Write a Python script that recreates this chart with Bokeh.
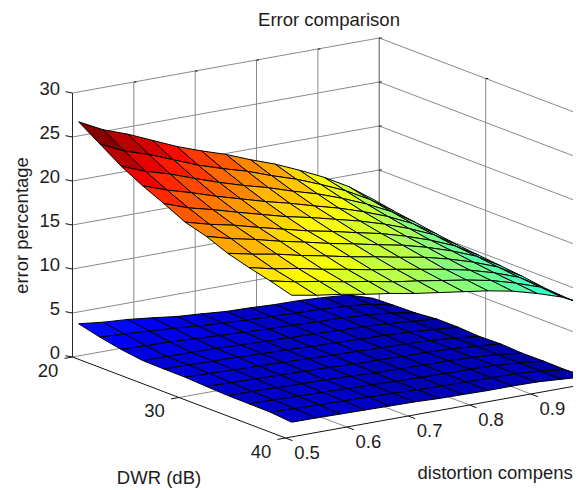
from bokeh.plotting import figure
from bokeh.embed import file_html
from bokeh.resources import INLINE
from bokeh.models import ColumnDataSource, LinearColorMapper, Range1d
from bokeh.core.properties import value
import math

TITLE = "Error comparison"
XLABEL = "distortion compens"
YLABEL = "DWR (dB)"
ZLABEL = "error percentage"

COMP_TICKS = [0.5, 0.6, 0.7, 0.8, 0.9]
COMP_TICK_LABELS = ["0.5", "0.6", "0.7", "0.8", "0.9"]
DWR_TICKS = [20, 30, 40]
DWR_TICK_LABELS = ["20", "30", "40"]
Z_TICKS = [0, 5, 10, 15, 20, 25, 30]
Z_TICK_LABELS = ["0", "5", "10", "15", "20", "25", "30"]

COMP = [0.51, 0.55, 0.59, 0.63, 0.67, 0.71, 0.75, 0.79, 0.83, 0.87, 0.91, 0.95, 0.99]
DWR = [20, 22, 24, 26, 28, 30, 32, 34, 36, 38, 40]

UPPER_Z = [
    [26.6, 25.2, 24.2, 23.0, 21.8, 20.8, 19.9, 18.8, 17.8, 16.6, 15.3, 13.75, 11.8],
    [25.0, 23.7, 22.8, 21.7, 20.6, 19.7, 18.9, 17.9, 17.0, 15.9, 14.7, 13.2, 11.35],
    [23.4, 22.3, 21.5, 20.5, 19.55, 18.7, 17.95, 17.05, 16.25, 15.25, 14.1, 12.75, 11.0],
    [22.1, 21.1, 20.3, 19.4, 18.6, 17.8, 17.1, 16.3, 15.55, 14.65, 13.6, 12.3, 10.6],
    [21.0, 20.0, 19.3, 18.5, 17.75, 17.0, 16.4, 15.7, 15.0, 14.15, 13.15, 11.95, 10.25],
    [19.8, 19.05, 18.45, 17.7, 17.0, 16.3, 15.75, 15.1, 14.5, 13.7, 12.75, 11.6, 10.0],
    [19.1, 18.35, 17.75, 17.05, 16.45, 15.8, 15.25, 14.65, 14.1, 13.35, 12.45, 11.35, 9.75],
    [18.1, 17.5, 17.0, 16.35, 15.8, 15.2, 14.7, 14.15, 13.65, 12.95, 12.1, 11.05, 9.5],
    [17.4, 16.75, 16.3, 15.7, 15.2, 14.65, 14.2, 13.7, 13.2, 12.6, 11.8, 10.8, 9.15],
    [16.8, 16.2, 15.75, 15.2, 14.75, 14.2, 13.8, 13.35, 12.9, 12.35, 11.55, 10.6, 8.95],
    [16.1, 15.6, 15.2, 14.7, 14.3, 13.8, 13.4, 13.0, 12.6, 12.06, 11.3, 10.4, 9.0],
]

LOWER_Z = [
    [3.65, 3.33, 3.14, 2.83, 2.48, 2.28, 2.05, 1.97, 1.84, 1.80, 1.64, 1.42, 0.55],
    [3.05, 2.90, 2.75, 2.55, 2.30, 2.15, 1.98, 1.90, 1.78, 1.72, 1.55, 1.30, 0.65],
    [2.57, 2.50, 2.42, 2.30, 2.15, 2.03, 1.90, 1.82, 1.72, 1.65, 1.48, 1.22, 0.72],
    [2.24, 2.20, 2.15, 2.10, 2.00, 1.92, 1.82, 1.75, 1.65, 1.58, 1.42, 1.20, 0.95],
    [2.20, 2.15, 2.08, 2.02, 1.93, 1.85, 1.75, 1.68, 1.58, 1.52, 1.38, 1.18, 0.94],
    [2.18, 2.10, 2.02, 1.95, 1.87, 1.78, 1.68, 1.62, 1.52, 1.47, 1.34, 1.12, 0.81],
    [2.05, 1.98, 1.92, 1.85, 1.78, 1.70, 1.60, 1.54, 1.46, 1.42, 1.32, 1.12, 0.88],
    [1.94, 1.90, 1.84, 1.78, 1.71, 1.64, 1.52, 1.48, 1.40, 1.37, 1.28, 1.08, 0.75],
    [1.92, 1.85, 1.78, 1.72, 1.65, 1.58, 1.47, 1.42, 1.36, 1.34, 1.27, 1.07, 0.78],
    [1.89, 1.80, 1.73, 1.67, 1.60, 1.54, 1.42, 1.37, 1.31, 1.31, 1.25, 1.06, 0.74],
    [1.67, 1.65, 1.60, 1.56, 1.51, 1.47, 1.36, 1.32, 1.27, 1.28, 1.24, 1.05, 0.85],
]

# Orthographic projection of (DWR, compensation, error) to picture pixels
def PX(d, c):
    return 72 + (d - 20) / 20 * 213 + (c - 0.5) / 0.5 * 306.7

def PY(d, c, z):
    return 356.5 + (d - 20) / 20 * 81 - (c - 0.5) / 0.5 * 55 - z * 8.8

# MATLAB "jet" colormap, 64 levels
def jet_level(t):
    r = min(max(min(4 * t - 1.5, -4 * t + 4.5), 0), 1)
    g = min(max(min(4 * t - 0.5, -4 * t + 3.5), 0), 1)
    b = min(max(min(4 * t + 0.5, -4 * t + 2.5), 0), 1)
    return "#%02x%02x%02x" % (round(r * 255), round(g * 255), round(b * 255))

JET = [jet_level((k + 0.5) / 64) for k in range(64)]
mapper = LinearColorMapper(palette=JET, low=0.0, high=26.6)

p = figure(width=573, height=490, x_range=Range1d(0, 573), y_range=Range1d(490, 0),
           output_backend="svg", toolbar_location=None, min_border=0)
p.axis.visible = False
p.grid.visible = False
p.outline_line_color = None
p.background_fill_color = "white"
p.border_fill_color = "white"

C0, C1 = 0.5, 1.0
D0, D1 = 20, 40
Z0, Z1 = 0, 30

# grid on the two walls and the floor
gx, gy = [], []
for z in Z_TICKS:
    gx.append([PX(D0, C0), PX(D0, C1), PX(D1, C1)])
    gy.append([PY(D0, C0, z), PY(D0, C1, z), PY(D1, C1, z)])
for c in COMP_TICKS[1:]:
    gx.append([PX(D1, c), PX(D0, c), PX(D0, c)])
    gy.append([PY(D1, c, Z0), PY(D0, c, Z0), PY(D0, c, Z1)])
gx.append([PX(30, C0), PX(30, C1), PX(30, C1)])
gy.append([PY(30, C0, Z0), PY(30, C1, Z0), PY(30, C1, Z1)])
p.multi_line(gx, gy, line_color="#8a8a8a", line_width=1)

# back corner
p.line([PX(D0, C1)] * 2, [PY(D0, C1, Z0), PY(D0, C1, Z1)], line_color="#555555", line_width=1)

# axes
p.line([PX(D0, C0)] * 2, [PY(D0, C0, Z0), PY(D0, C0, Z1)], line_color="#262626", line_width=1)
p.line([PX(D0, C0), PX(D1, C0), PX(D1, C1)],
       [PY(D0, C0, Z0), PY(D1, C0, Z0), PY(D1, C1, Z0)], line_color="#111111", line_width=1)

# ticks
tx, ty = [], []
for z in Z_TICKS:
    tx.append([PX(D0, C0), PX(D0, C0) - 7])
    ty.append([PY(D0, C0, z), PY(D0, C0, z) - 1.3])
    tx.append([PX(D0, C1), PX(D0, C1) + 2.5])
    ty.append([PY(D0, C1, z), PY(D0, C1, z)])
for d in DWR_TICKS:
    tx.append([PX(d, C0), PX(d, C0) - 8])
    ty.append([PY(d, C0, Z0), PY(d, C0, Z0) + 1.4])
for c in COMP_TICKS:
    tx.append([PX(D1, c), PX(D1, c) + 7])
    ty.append([PY(D1, c, Z0), PY(D1, c, Z0) + 2.7])
for c in COMP_TICKS[1:]:
    tx.append([PX(D0, c), PX(D0, c) + 2.5])
    ty.append([PY(D0, c, Z1), PY(D0, c, Z1)])
tx.append([PX(30, C1), PX(30, C1) + 2.5])
ty.append([PY(30, C1, Z1), PY(30, C1, Z1)])
p.multi_line(tx, ty, line_color="#111111", line_width=1)

# surfaces, painted from the far corner towards the viewer
def draw_surface(Z):
    xs, ys, vs = [], [], []
    for j in range(len(DWR) - 1):
        for i in range(len(COMP) - 2, -1, -1):
            corners = [(j, i), (j, i + 1), (j + 1, i + 1), (j + 1, i)]
            xs.append([PX(DWR[a], COMP[b]) for a, b in corners])
            ys.append([PY(DWR[a], COMP[b], Z[a][b]) for a, b in corners])
            vs.append(Z[j][i])
    src = ColumnDataSource(dict(xs=xs, ys=ys, v=vs))
    p.patches("xs", "ys", source=src, fill_color={"field": "v", "transform": mapper},
              line_color="#000000", line_width=1)

draw_surface(LOWER_Z)
draw_surface(UPPER_Z)

FONT = value("Liberation Sans")
INK = "#1c1c1c"
SIZE = "18.5px"

def label(x, y, s, align="center", angle=0.0):
    p.text([x], [y], text=[s], text_font=FONT, text_font_size=SIZE, text_color=INK,
           text_align=align, text_baseline="middle", angle=angle)

for z, s in zip(Z_TICKS, Z_TICK_LABELS):
    label(59.5, PY(D0, C0, z) - 4.5, s, align="right")
for d, s in zip(DWR_TICKS, DWR_TICK_LABELS):
    label(PX(d, C0) - 24.5, PY(d, C0, Z0) + 13, s)
for c, s in zip(COMP_TICKS, COMP_TICK_LABELS):
    label(PX(D1, c) + 21.5, PY(D1, c, Z0) + 14, s)

label(328.5, 19, TITLE)
label(417, 472, XLABEL, align="left")
label(158.5, 477, YLABEL)
label(20.5, 225, ZLABEL, angle=math.pi / 2)

open("out.html", "w").write(file_html(p, INLINE))
